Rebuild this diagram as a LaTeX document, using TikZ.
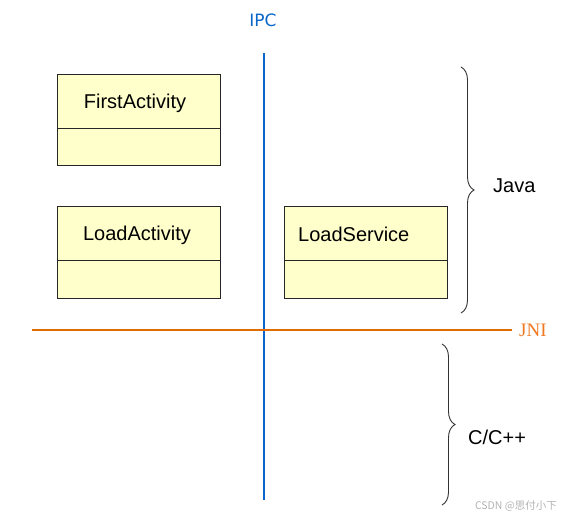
\documentclass[tikz,border=0pt]{standalone}
\usepackage{fontspec}
\setmainfont{Liberation Sans}
\newfontfamily\dejavu{DejaVu Sans}
\newfontfamily\serifjni{Liberation Serif}
\newfontfamily\cjk{Noto Sans CJK SC}
\usetikzlibrary{decorations.pathreplacing}
\definecolor{boxfill}{HTML}{FFFFCC}
\definecolor{ipcblue}{HTML}{0A66C8}
\definecolor{jniorange}{HTML}{E06C00}
\definecolor{jnitext}{HTML}{F07820}
\tikzset{
  classbox/.style={draw=black!85, fill=boxfill, line width=1pt},
  divider/.style={draw=black!85, line width=1pt},
  lbl/.style={font=\fontsize{20}{23}\selectfont, text=black},
  bracestyle/.style={draw=black!80, line width=0.9pt, decorate, decoration={brace, amplitude=13pt}},
}
\begin{document}
\begin{tikzpicture}[x=1pt,y=-1pt]
\useasboundingbox (0,0) rectangle (561,517);
% boxes
\draw[classbox] (57,74) rectangle (220,165);
\draw[divider] (57,128) -- (220,128);
\node[lbl] (first) at (135,103) {FirstActivity};
\draw[classbox] (57,206) rectangle (220,298);
\draw[divider] (57,260) -- (220,260);
\node[lbl] (loadact) at (137,235) {LoadActivity};
\draw[classbox] (284,206) rectangle (447,298);
\draw[divider] (284,260) -- (447,260);
\node[lbl, anchor=west, inner sep=0pt] (loadsvc) at (298,234) {LoadService};
% IPC line
\coordinate (ipctop) at (264,53);
\coordinate (ipcbot) at (264,500);
\draw[ipcblue, line width=2.8pt] (ipctop) -- (ipcbot);
\node[text=ipcblue, font=\dejavu\fontsize{17}{19}\selectfont] (ipc) at (263,20) {IPC};
% JNI line
\coordinate (jnil) at (32,330);
\coordinate (jnir) at (512,330);
\draw[jniorange, line width=2.8pt] (jnil) -- (jnir);
\node[text=jnitext, font=\serifjni\fontsize{19}{21}\selectfont, anchor=west, inner sep=0pt] (jni) at (519,330) {JNI};
% braces
\coordinate (jt) at (461,67);
\coordinate (jb) at (461,313);
\draw[bracestyle] (jt) -- (jb);
\node[lbl, anchor=west, inner sep=0pt] (java) at (493,186) {Java};
\coordinate (ct) at (442,344);
\coordinate (cb) at (442,505);
\draw[bracestyle] (ct) -- (cb);
\node[lbl, anchor=west, inner sep=0pt] (cpp) at (468,437) {C/C++};
% watermark
\node[text=black!30, font=\cjk\fontsize{10.5}{12}\selectfont, anchor=east, inner sep=0pt] (wm) at (557,506) {CSDN @思付小下};
\end{tikzpicture}
\end{document}
